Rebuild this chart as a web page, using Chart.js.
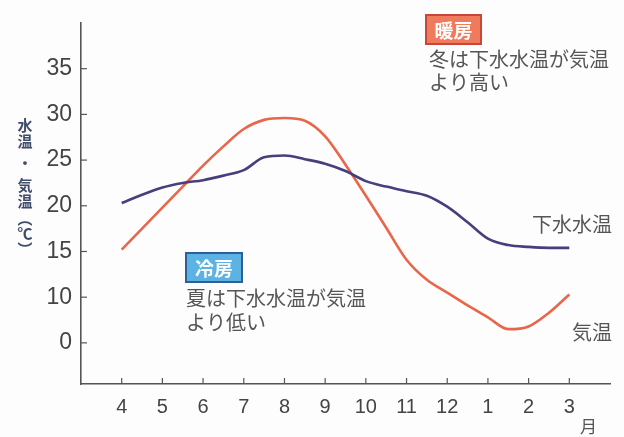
<!DOCTYPE html>
<html>
<head>
<meta charset="utf-8">
<script src="https://cdn.jsdelivr.net/npm/chart.js@4"></script>
<style>
  html, body { margin: 0; padding: 0; background: #fdfdfe; }
  #wrap { width: 624px; height: 437px; }
</style>
</head>
<body>
<div id="wrap"><canvas id="tempChart" width="624" height="437"></canvas></div>
<script>
// month labels (April .. March), placed at positions 0..11
const months = ['4', '5', '6', '7', '8', '9', '10', '11', '12', '1', '2', '3'];

// sample positions (half-month steps) and values, in °C
const samplePos = [0, 0.5, 1, 1.5, 2, 2.5, 3, 3.5, 4, 4.5, 5, 5.5, 6, 6.5, 7, 7.5, 8, 8.5, 9, 9.5, 10, 10.5, 11];
const sewerTemp = [20.3, 21.2, 22.0, 22.5, 22.8, 23.3, 23.9, 25.3, 25.5, 25.1, 24.6, 23.8, 22.7, 22.1, 21.6, 21.1, 19.9, 18.2, 16.4, 15.7, 15.5, 15.4, 15.4];
const airTemp = [15.2, 17.5, 19.8, 22.1, 24.4, 26.5, 28.4, 29.4, 29.6, 29.3, 27.6, 24.5, 21.1, 17.6, 14.1, 11.9, 10.5, 9.1, 7.8, 6.5, 6.8, 8.3, 10.3];

// y tick positions and the labels printed at them (the bottom one reads "0" in the original)
const yTickPositions = [5, 10, 15, 20, 25, 30, 35];
const yTickLabels = ['0', '10', '15', '20', '25', '30', '35'];

const axisColor = '#555';
const textColor = '#555';
const jpFont = '"Noto Sans CJK JP", sans-serif';
const numFont = '"Liberation Sans", Arial, sans-serif';

const toPoints = vals => vals.map((v, i) => ({ x: samplePos[i], y: v }));

// draws inside tick marks, vertical axis title and the text notes
const decorations = {
  id: 'decorations',
  afterDraw(chart) {
    const { ctx, scales: { x, y } } = chart;
    ctx.save();

    // tick marks pointing into the plot
    ctx.strokeStyle = axisColor;
    ctx.lineWidth = 1.2;
    months.forEach((m, i) => {
      const px = x.getPixelForValue(i);
      ctx.beginPath();
      ctx.moveTo(px, y.bottom);
      ctx.lineTo(px, y.bottom - 6);
      ctx.stroke();
    });
    yTickPositions.forEach(v => {
      const py = y.getPixelForValue(v);
      ctx.beginPath();
      ctx.moveTo(x.left, py);
      ctx.lineTo(x.left + 6, py);
      ctx.stroke();
    });

    // vertical y title
    ctx.fillStyle = '#3f4d6b';
    ctx.font = 'bold 15px ' + jpFont;
    ctx.textAlign = 'center';
    ctx.textBaseline = 'middle';
    const titleChars = ['水', '温', '・', '気', '温', '︵', '℃', '︶'];
    const titleY = [125, 141, 163, 185, 201, 218, 233, 249];
    titleChars.forEach((c, i) => ctx.fillText(c, 25, titleY[i]));

    // labelled boxes
    function tag(label, bx, by, bw, bh, fill, border) {
      ctx.fillStyle = fill;
      ctx.fillRect(bx, by, bw, bh);
      ctx.strokeStyle = border;
      ctx.lineWidth = 2;
      ctx.strokeRect(bx, by, bw, bh);
      ctx.fillStyle = '#fff';
      ctx.font = 'bold 19px ' + jpFont;
      ctx.textAlign = 'center';
      ctx.fillText(label, bx + bw / 2, by + bh / 2 + 1);
    }
    tag('暖房', 426, 15, 55, 29, '#f07a5c', '#c9473a');
    tag('冷房', 186, 253, 56, 29, '#5cb2e2', '#2f5f98');

    ctx.fillStyle = textColor;
    ctx.font = '20px ' + jpFont;
    ctx.textAlign = 'left';
    ctx.fillText('冬は下水水温が気温', 429, 59);
    ctx.fillText('より高い', 429, 82);
    ctx.fillText('夏は下水水温が気温', 186, 298);
    ctx.fillText('より低い', 186, 322);
    ctx.fillText('下水水温', 532, 224);
    ctx.fillText('気温', 572, 332);

    ctx.font = '17px ' + jpFont;
    ctx.fillText('月', 580, 427);
    ctx.restore();
  }
};

new Chart(document.getElementById('tempChart'), {
  type: 'line',
  data: {
    datasets: [
      {
        label: '下水水温',
        data: toPoints(sewerTemp),
        borderColor: '#463f7c',
        borderWidth: 2.6,
        pointRadius: 0,
        cubicInterpolationMode: 'monotone'
      },
      {
        label: '気温',
        data: toPoints(airTemp),
        borderColor: '#e8664a',
        borderWidth: 2.6,
        pointRadius: 0,
        cubicInterpolationMode: 'monotone'
      }
    ]
  },
  options: {
    responsive: false,
    animation: false,
    layout: { padding: { top: 23, right: 14, left: 0, bottom: 0 } },
    plugins: {
      legend: { display: false },
      tooltip: { enabled: false }
    },
    scales: {
      x: {
        type: 'linear',
        min: -1,
        max: 12,
        afterFit: s => { s.height = 53; },
        border: { display: true, color: axisColor, width: 1.6 },
        grid: { display: false, drawTicks: false },
        ticks: {
          stepSize: 1,
          autoSkip: false,
          maxRotation: 0,
          padding: 11,
          color: '#444',
          font: { family: numFont, size: 20 },
          callback: v => months[v] ?? ''
        }
      },
      y: {
        min: 0.5,
        max: 40,
        afterFit: s => { s.width = 81; },
        afterBuildTicks: s => { s.ticks = yTickPositions.map(v => ({ value: v })); },
        border: { display: true, color: axisColor, width: 1.6 },
        grid: { display: false, drawTicks: false },
        ticks: {
          padding: 9,
          color: '#444',
          font: { family: numFont, size: 23 },
          callback: v => yTickLabels[yTickPositions.indexOf(v)]
        }
      }
    }
  },
  plugins: [decorations]
});
</script>
</body>
</html>
